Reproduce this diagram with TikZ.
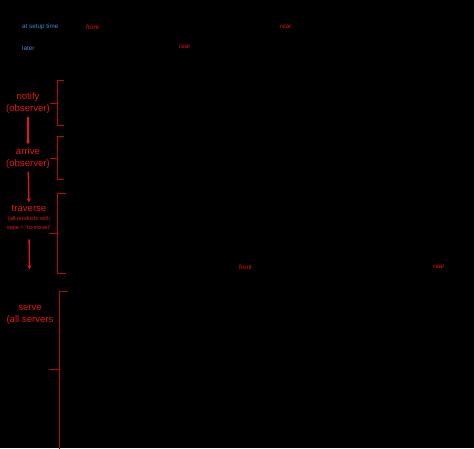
\documentclass[tikz,border=0pt]{standalone}
\usepackage{fontspec}
\setmainfont{Liberation Sans}
\usetikzlibrary{arrows.meta, positioning}
\definecolor{stagered}{RGB}{228,22,22}
\definecolor{bracered}{RGB}{185,8,8}
\definecolor{timeblue}{RGB}{70,135,205}

\begin{document}
\begin{tikzpicture}[x=1pt, y=-1pt,
  stagelabel/.style={text=stagered, align=center, inner sep=1pt, font=\fontsize{9.6}{12}\selectfont},
  notelabel/.style={text=stagered, align=center, inner sep=1pt, font=\fontsize{5.6}{8.5}\selectfont},
  timelabel/.style={text=timeblue, anchor=west, inner sep=0pt, font=\fontsize{6.3}{7}\selectfont},
  endlabel/.style={text=stagered, anchor=west, inner sep=0pt, font=\fontsize{6.3}{7}\selectfont},
  flowarrow/.style={-{Stealth[length=4pt, width=4pt]}, stagered, line width=1.3pt},
  bracket/.style={bracered, line width=0.8pt}]
  \fill[black] (0,0) rectangle (474,448);
  \useasboundingbox (0,0) rectangle (474,448);

  \node[timelabel] (setup) at (22,27) {at setup time};
  \node[timelabel] (later) at (22,48) {later};
  \node[endlabel] (front1) at (86,27) {front};
  \node[endlabel] (rear1) at (280,27) {rear};
  \node[endlabel] (rear2) at (179,47) {rear};
  \node[endlabel] (front2) at (239,267) {front};
  \node[endlabel] (rear3) at (433,267) {rear};

  \node[stagelabel] (notify) at (28,103) {notify\\(observer)};
  \node[stagelabel] (arrive) at (28,158) {arrive\\(observer)};
  \node[stagelabel] (traverse) at (29,208.5) {traverse};
  \node[notelabel, below=2.5pt of traverse] (tonote) {(all products with\\state = "to-move)"};
  \node[stagelabel] (serve) at (30,315) {serve\\(all servers};

  \draw[flowarrow, shorten <=2pt, shorten >=2pt] (notify) -- (arrive);
  \draw[flowarrow, shorten <=2pt, shorten >=2pt] (arrive) -- (traverse);
  \draw[flowarrow, shorten <=8pt, shorten >=35pt] (tonote.south -| traverse) -- (serve);

  \draw[bracket] (64,80) -- (57,80) -- (57,125) -- (64,125) (57,103) -- (50,103);
  \draw[bracket] (64,136) -- (57,136) -- (57,179) -- (64,179) (57,158) -- (50,158);
  \draw[bracket] (66,193) -- (57,193) -- (57,273) -- (66,273) (57,233) -- (49,233);
  \draw[bracket] (68,291) -- (59,291) -- (59,450) (59,369) -- (49,369);
\end{tikzpicture}
\end{document}
